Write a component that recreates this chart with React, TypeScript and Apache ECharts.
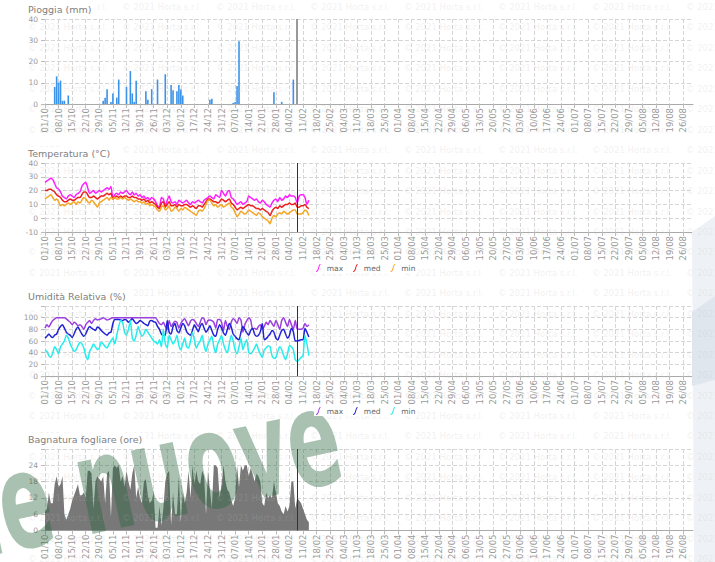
import React, { useEffect, useRef } from "react";
import * as echarts from "echarts";

const FONT = "DejaVu Sans";

// ---- categories: daily labels 01/10/2020 .. 31/08/2021 ----
function buildCategories(): string[] {
  const out: string[] = [];
  const d = new Date(Date.UTC(2020, 9, 1));
  const end = Date.UTC(2021, 7, 31);
  while (d.getTime() <= end) {
    out.push(
      String(d.getUTCDate()).padStart(2, "0") + "/" + String(d.getUTCMonth() + 1).padStart(2, "0")
    );
    d.setUTCDate(d.getUTCDate() + 1);
  }
  return out;
}
const CATEGORIES = buildCategories();
const TODAY = "08/02";

// ---- data (day 0 = 01/10) ----
const RAIN = [
  0, 0, 0, 0, 0, 8, 13, 10, 11, 1.5,
  1.5, 0, 4, 0, 0, 0, 0, 0, 0, 0,
  0, 0, 0, 0, 0, 0, 0, 0, 0, 0,
  1.5, 3, 7, 0, 1, 5, 0, 3, 11.5, 0,
  0, 0, 8, 0, 15.5, 5, 1, 11, 0, 0,
  0, 0, 6, 2, 0, 7, 0, 0, 11.5, 0,
  0, 0, 14, 0, 0, 9, 6.5, 0, 6, 9,
  7, 4, 0, 0, 0, 0, 0, 0, 0, 0,
  0, 0, 0, 0, 0, 2, 2.5, 0, 0, 0,
  0, 0, 0, 0, 0, 0, 0, 0.5, 1, 8.5,
  29.5, 0, 0, 0, 0, 0, 0, 0, 0, 0,
  0, 0, 0, 0, 0, 0, 0, 0, 5.5, 0,
  0, 0, 1, 0, 0, 0, 0, 0, 11.5, 0,
];

const T_MAX = [
  26, 27, 28, 29, 28, 25, 22, 21, 19, 16,
  15, 14, 16, 17, 16, 15, 17, 18, 19, 23,
  25, 26, 22, 18, 19, 20, 18, 19, 20, 19,
  20, 21, 22, 21, 23, 14, 17, 18, 17, 19,
  18, 19, 20, 18, 17, 19, 17, 18, 16, 17,
  15, 16, 14, 15, 13, 15, 14, 12, 9, 8,
  15, 14, 9, 13, 16, 12, 11, 12, 10, 13,
  12, 11, 12, 13, 11, 10, 12, 11, 12, 13,
  12, 11, 13, 14, 15, 16, 15, 14, 17, 16,
  15, 20, 18, 16, 19, 20, 15, 14, 12, 10,
  11, 12, 10, 11, 12, 16, 15, 14, 13, 14,
  12, 11, 13, 12, 10, 9, 8, 11, 13, 14,
  12, 15, 13, 14, 16, 15, 17, 16, 16, 15,
  11, 16, 17, 17, 15, 10, 13,
];
const T_MED = [
  20, 20, 21, 21, 20, 19, 17, 16, 15, 13,
  12, 12, 13, 14, 13, 13, 14, 15, 15, 17,
  19, 19, 17, 15, 15, 16, 15, 14, 15, 16,
  16, 17, 18, 17, 18, 14, 15, 16, 15, 16,
  15, 16, 16, 15, 15, 16, 15, 15, 14, 14,
  13, 14, 12, 13, 11, 12, 11, 10, 8, 7,
  11, 12, 8, 10, 12, 9, 9, 10, 8, 10,
  9, 9, 10, 10, 9, 8, 9, 8, 7, 9,
  9, 8, 10, 12, 14, 14, 13, 12, 12, 11,
  12, 14, 13, 12, 13, 14, 11, 10, 8, 6,
  7, 8, 7, 8, 9, 10, 9, 9, 8, 7,
  7, 6, 7, 6, 5, 4, 2, 5, 7, 8,
  7, 9, 8, 9, 10, 10, 11, 10, 10, 11,
  8, 8, 9, 9, 10, 8, 7,
];
const T_MIN = [
  14, 15, 16, 17, 15, 13, 14, 12, 9, 10,
  9, 10, 11, 10, 11, 12, 10, 12, 11, 13,
  15, 14, 12, 11, 13, 12, 10, 8, 11, 12,
  13, 14, 15, 13, 15, 14, 15, 14, 14, 15,
  14, 15, 14, 13, 14, 13, 12, 13, 12, 12,
  11, 12, 10, 11, 9, 10, 9, 8, 6, 5,
  8, 9, 6, 7, 9, 5, 6, 8, 7, 5,
  7, 6, 8, 7, 6, 5, 4, 3, 2, 5,
  6, 5, 7, 10, 13, 13, 11, 9, 10, 8,
  9, 10, 8, 9, 10, 11, 8, 7, 4, 1,
  3, 5, 4, 3, 4, 6, 5, 4, 3, 2,
  4, 3, 1, 0, -1, -2, -4, 0, 2, 1,
  3, 4, 3, 5, 4, 3, 4, 5, 6, 6,
  3, 3, 3, 4, 6, 5, 2,
];

const U_MAX = [
  82, 88, 84, 90, 95, 98, 100, 100, 100, 100,
  100, 98, 95, 92, 88, 92, 90, 86, 88, 85,
  80, 88, 92, 95, 90, 95, 98, 96, 97, 98,
  100, 98, 96, 97, 99, 100, 100, 100, 100, 100,
  100, 100, 100, 100, 100, 100, 100, 100, 100, 100,
  100, 100, 100, 100, 100, 100, 100, 100, 95, 90,
  88, 92, 85, 80, 95, 85, 90, 94, 92, 82,
  90, 95, 98, 92, 86, 94, 97, 95, 90, 85,
  92, 100, 98, 88, 95, 96, 95, 92, 82, 97,
  97, 92, 78, 95, 85, 80, 92, 98, 95, 90,
  100, 96, 75, 88, 95, 100, 96, 80, 82, 80,
  85, 88, 80, 85, 92, 88, 95, 90, 85, 95,
  88, 80, 95, 100, 92, 85, 97, 88, 80, 95,
  80, 80, 80, 82, 90, 85, 88,
];
const U_MED = [
  65, 68, 72, 68, 66, 70, 72, 80, 85, 88,
  82, 75, 72, 70, 66, 72, 80, 84, 78, 72,
  68, 72, 80, 85, 82, 80, 78, 84, 82, 78,
  75, 72, 70, 74, 75, 90, 97, 97, 97, 96,
  95, 97, 96, 92, 95, 98, 94, 90, 92, 95,
  93, 90, 88, 86, 94, 95, 93, 92, 85, 80,
  72, 70, 70, 95, 75, 72, 85, 90, 78, 74,
  82, 90, 86, 76, 72, 70, 78, 88, 82, 76,
  85, 90, 82, 75, 80, 86, 78, 70, 68, 80,
  88, 82, 74, 70, 80, 90, 84, 72, 68, 64,
  62, 75, 85, 80, 74, 70, 78, 82, 72, 68,
  70, 76, 90, 62, 64, 68, 72, 78, 75, 65,
  62, 70, 78, 80, 72, 65, 70, 82, 76, 60,
  60, 61, 62, 62, 82, 75, 67,
];
const U_MIN = [
  45, 42, 35, 32, 40, 50, 45, 38, 50, 55,
  60, 70, 65, 55, 48, 42, 45, 52, 58, 55,
  48, 35, 28, 42, 48, 55, 50, 45, 48, 58,
  55, 50, 48, 55, 60, 65, 55, 70, 85, 95,
  92, 75, 70, 80, 95, 65, 60, 70, 85, 75,
  68, 72, 80, 75, 70, 65, 60, 58, 55, 62,
  50, 80, 55, 48, 70, 62, 55, 60, 70, 52,
  45, 55, 65, 50, 48, 60, 75, 62, 48, 55,
  60, 70, 52, 42, 55, 62, 68, 50, 40, 55,
  62, 70, 55, 45, 40, 55, 70, 60, 45, 38,
  50, 65, 45, 55, 62, 40, 38, 42, 48, 55,
  45, 38, 32, 45, 48, 52, 50, 35, 30, 32,
  42, 50, 45, 35, 28, 38, 52, 50, 45, 28,
  25, 28, 32, 35, 70, 55, 35,
];

const WET = [
  7, 8, 14, 10, 10, 17, 20, 16, 17, 20,
  6, 4, 6, 8, 11, 13, 15, 17, 13, 13,
  14, 12, 22, 22, 21, 8, 18, 20, 19, 18,
  20, 10, 21, 22, 5, 23, 24, 23, 24, 18,
  20, 16, 22, 18, 15, 21, 24, 12, 16, 12,
  10, 18, 19, 13, 10, 11, 14, 1, 1, 9,
  2, 8, 18, 21, 22, 2, 14, 6, 6, 20,
  3, 14, 10, 14, 22, 12, 24, 17, 22, 18,
  17, 22, 20, 6, 22, 15, 8, 24, 24, 23,
  12, 17, 24, 18, 15, 14, 11, 9, 12, 24,
  16, 24, 22, 24, 24, 20, 23, 21, 18, 21,
  20, 18, 10, 9, 14, 12, 13, 12, 18, 14,
  10, 9, 7, 6, 9, 7, 9, 18, 18, 8,
  12, 11, 10, 8, 6, 4, 3,
];

const TITLES = ["Pioggia (mm)", "Temperatura (°C)", "Umidità Relativa (%)", "Bagnatura fogliare (ore)"];
const LEGEND_NAMES = ["max", "med", "min"];
const WATERMARK = "© 2021 Horta s.r.l.";

const GRIDS = [
  { top: 19, height: 85 },
  { top: 163, height: 69 },
  { top: 306, height: 70 },
  { top: 449, height: 86 },
];
const TITLE_TOPS = [3, 147, 290, 433];

function xAxisFor(i: number) {
  return {
    type: "category",
    gridIndex: i,
    data: CATEGORIES,
    boundaryGap: false,
    axisLine: { onZero: false, lineStyle: { color: "#aaa" } },
    axisTick: { show: true, interval: 6, length: 4, lineStyle: { color: "#bbb" } },
    axisLabel: { interval: 6, rotate: 90, fontSize: 8.5, color: "#999", margin: 4, fontFamily: FONT },
    splitLine: { show: true, interval: 6, lineStyle: { type: "dashed", color: "#d6d6d6" } },
  };
}
function yAxisFor(i: number, min: number, max: number, interval: number, hideMax: boolean) {
  return {
    type: "value",
    gridIndex: i,
    min,
    max,
    interval,
    axisLine: { show: false },
    axisTick: { show: true, length: 4, lineStyle: { color: "#bbb" } },
    axisLabel: {
      fontSize: 7.5,
      color: "#999",
      margin: 7,
      fontFamily: FONT,
      formatter: (v: number) => (hideMax && v === max ? "" : String(v)),
    },
    splitLine: { lineStyle: { type: "dashed", color: "#d6d6d6" } },
  };
}

const LEGEND_ICON = "path://M0,14 C5,14 4,0 9,0 L9,2 C6,2 7,16 0,16 Z";

function todayLine(color: string, width: number) {
  return {
    silent: true,
    symbol: ["none", "none"],
    label: { show: false },
    lineStyle: { color, width, type: "solid" },
    data: [{ xAxis: TODAY }],
  };
}

function lineSeries(name: string, data: number[], color: string, idx: number, mark?: any) {
  const s: any = {
    name,
    type: "line",
    xAxisIndex: idx,
    yAxisIndex: idx,
    data,
    showSymbol: false,
    smooth: 0.2,
    color,
    lineStyle: { color, width: 1.5 },
  };
  if (mark) s.markLine = mark;
  return s;
}

function buildGraphics() {
  const els: any[] = [];
  for (let r = 0; r < 28; r++) {
    for (let c = 0; c < 8; c++) {
      els.push({
        type: "text",
        x: 28 + 94 * c,
        y: 7 + 20.45 * r,
        silent: true,
        z: 200,
        style: {
          text: WATERMARK,
          fill: "rgba(190,190,190,0.22)",
          font: `8.5px "${FONT}"`,
          textVerticalAlign: "middle",
        },
      });
    }
  }
  // decorative page shapes at the right edge
  els.push({
    type: "polygon",
    silent: true,
    z: 90,
    shape: { points: [[692, 232], [715, 216], [715, 562], [694, 562]] },
    style: { fill: "#eef2f6" },
  });
  els.push({
    type: "polygon",
    silent: true,
    z: 91,
    shape: { points: [[692, 312], [715, 296], [715, 380], [692, 386]] },
    style: { fill: "#dfe6ee" },
  });
  // green overlay lettering
  els.push({
    type: "group",
    x: 338,
    y: 434,
    rotation: 0.21,
    z: 100,
    silent: true,
    children: [
      {
        type: "text",
        x: 0,
        y: 0,
        scaleX: 0.58,
        z: 100,
        style: {
          text: "he nuove",
          font: `bold 134px "${FONT}"`,
          fill: "rgba(40,100,60,0.4)",
          textAlign: "right",
          textVerticalAlign: "middle",
        },
      },
    ],
  });
  return els;
}

export default function App() {
  const ref = useRef<HTMLDivElement>(null);
  useEffect(() => {
    if (!ref.current) return;
    const chart = echarts.init(ref.current, undefined, { renderer: "svg" });
    const option: any = {
      animation: false,
      backgroundColor: "#fff",
      textStyle: { fontFamily: FONT },
      title: TITLES.map((t, i) => ({
        text: t,
        left: 24,
        top: TITLE_TOPS[i],
        padding: [1, 4],
        backgroundColor: "#fff",
        z: 300,
        textStyle: { fontSize: 9.5, color: "#808080", fontWeight: "normal", fontFamily: FONT },
      })),
      legend: [
        {
          data: LEGEND_NAMES.map((n) => "t_" + n),
          left: 314,
          top: 263,
          padding: [1, 2],
          itemWidth: 7,
          itemHeight: 8,
          itemGap: 10,
          icon: LEGEND_ICON,
          backgroundColor: "#fff",
          z: 300,
          formatter: (n: string) => n.split("_")[1],
          textStyle: { fontSize: 7.5, color: "#666", fontFamily: FONT },
        },
        {
          data: LEGEND_NAMES.map((n) => "u_" + n),
          left: 314,
          top: 406,
          padding: [1, 2],
          itemWidth: 7,
          itemHeight: 8,
          itemGap: 10,
          icon: LEGEND_ICON,
          backgroundColor: "#fff",
          z: 300,
          formatter: (n: string) => n.split("_")[1],
          textStyle: { fontSize: 7.5, color: "#666", fontFamily: FONT },
        },
      ],
      grid: GRIDS.map((g) => ({ left: 45, width: 648, top: g.top, height: g.height })),
      xAxis: [0, 1, 2, 3].map((i) => xAxisFor(i)),
      yAxis: [
        yAxisFor(0, 0, 40, 10, false),
        yAxisFor(1, -10, 40, 10, false),
        yAxisFor(2, 0, 120, 20, true),
        yAxisFor(3, 0, 30, 6, true),
      ],
      series: [
        {
          name: "pioggia",
          type: "bar",
          xAxisIndex: 0,
          yAxisIndex: 0,
          data: RAIN,
          barWidth: 1.6,
          itemStyle: { color: "#3a92ea" },
          markLine: todayLine("#999", 2),
        },
        lineSeries("t_max", T_MAX, "#ff1eff", 1, todayLine("#333", 1)),
        lineSeries("t_med", T_MED, "#ee1c1c", 1),
        lineSeries("t_min", T_MIN, "#f5a623", 1),
        lineSeries("u_max", U_MAX, "#9b3fde", 2, todayLine("#333", 1)),
        lineSeries("u_med", U_MED, "#2020d6", 2),
        lineSeries("u_min", U_MIN, "#22eeee", 2),
        {
          name: "bagnatura",
          type: "line",
          xAxisIndex: 3,
          yAxisIndex: 3,
          data: WET,
          showSymbol: false,
          lineStyle: { width: 0, color: "#777" },
          areaStyle: { color: "#787878", opacity: 1 },
          color: "#777",
          markLine: todayLine("#333", 1),
        },
      ],
      graphic: buildGraphics(),
    };
    chart.setOption(option);
    return () => chart.dispose();
  }, []);
  return (
    <div
      ref={ref}
      style={{ position: "absolute", left: 0, top: 0, width: 715, height: 562 }}
    />
  );
}
